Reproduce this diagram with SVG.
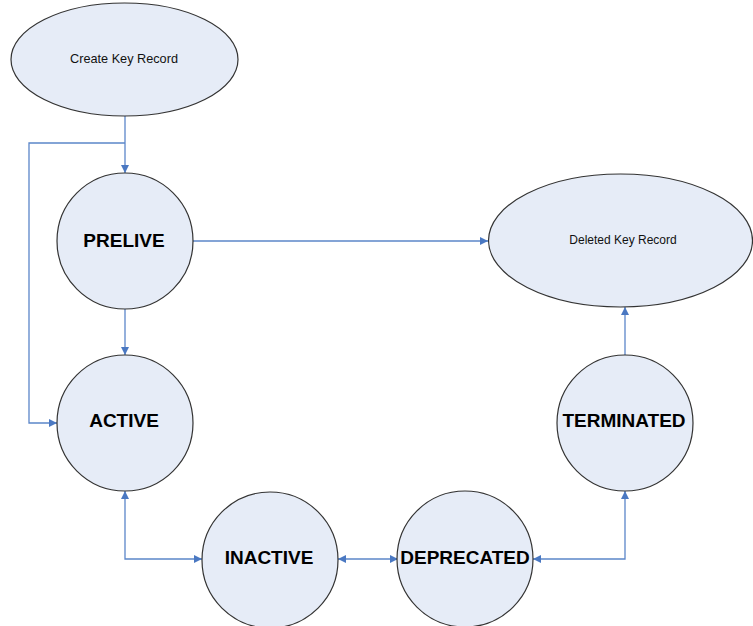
<svg xmlns="http://www.w3.org/2000/svg" width="753" height="626" viewBox="0 0 753 626">
<defs>
<style>
.node{fill:#E6ECF7;stroke:#333333;stroke-width:1.2}
.edge{fill:none;stroke:#5B86C9;stroke-width:1.3}
.big{font-family:"Liberation Sans",Arial,sans-serif;font-size:19px;font-weight:bold;fill:#000;text-anchor:middle}
.small{font-family:"Liberation Sans",Arial,sans-serif;font-size:12px;fill:#111;text-anchor:middle}
</style>
<marker id="arr" viewBox="0 0 10 10" refX="10" refY="5" markerWidth="9" markerHeight="8" markerUnits="userSpaceOnUse" orient="auto-start-reverse">
<path d="M0,0 L10,5 L0,10 Z" fill="#4A78C2"/>
</marker>
</defs>
<rect width="753" height="626" fill="#fff"/>
<g id="connectors">
<path class="edge" d="M125,116 V173" marker-end="url(#arr)"/>
<path class="edge" d="M125,143 H29 V423 H57" marker-end="url(#arr)"/>
<path class="edge" d="M125,309 V355" marker-end="url(#arr)"/>
<path class="edge" d="M193,241 H488" marker-end="url(#arr)"/>
<path class="edge" d="M125,491 V559 H202" marker-start="url(#arr)" marker-end="url(#arr)"/>
<path class="edge" d="M338,559 H398" marker-start="url(#arr)" marker-end="url(#arr)"/>
<path class="edge" d="M625,491 V559 H533" marker-start="url(#arr)" marker-end="url(#arr)"/>
<path class="edge" d="M625,355 V307" marker-end="url(#arr)"/>
</g>
<g id="create">
<ellipse class="node" cx="124.5" cy="59.5" rx="113.5" ry="56.5"/>
<text class="small" x="124" y="62.5" style="font-size:12.7px">Create Key Record</text>
</g>
<g id="deleted">
<ellipse class="node" cx="620.5" cy="240.5" rx="132" ry="66.5"/>
<text class="small" x="623" y="244">Deleted Key Record</text>
</g>
<g id="prelive">
<circle class="node" cx="125" cy="241" r="68"/>
<text class="big" x="124" y="247">PRELIVE</text>
</g>
<g id="active">
<circle class="node" cx="125" cy="423" r="68"/>
<text class="big" x="124" y="427">ACTIVE</text>
</g>
<g id="inactive">
<circle class="node" cx="270" cy="560" r="68"/>
<text class="big" x="269" y="564">INACTIVE</text>
</g>
<g id="deprecated">
<circle class="node" cx="465" cy="559" r="68"/>
<text class="big" x="465" y="564">DEPRECATED</text>
</g>
<g id="terminated">
<circle class="node" cx="625" cy="423" r="68"/>
<text class="big" x="624" y="427">TERMINATED</text>
</g>
</svg>
